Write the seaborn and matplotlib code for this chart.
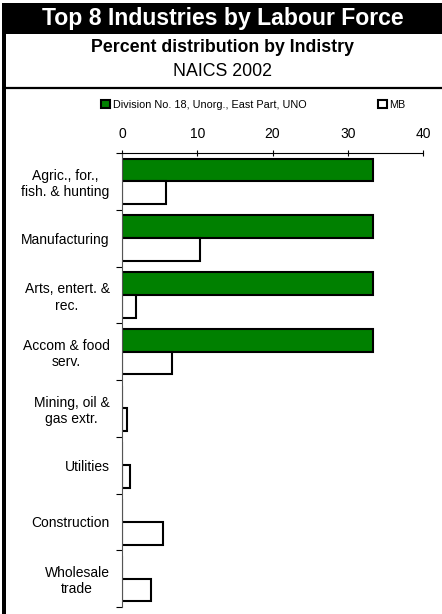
import pandas as pd
import matplotlib
matplotlib.use('Agg')
import matplotlib.pyplot as plt
import seaborn as sns
from matplotlib.patches import Rectangle
from matplotlib.lines import Line2D

# duomenys nuskaityti nuo paveikslo
industries = ['Agric., for.,\nfish. & hunting', 'Manufacturing', 'Arts, entert. &\nrec.',
              'Accom & food\nserv.', 'Mining, oil &\ngas extr.', 'Utilities',
              'Construction', 'Wholesale\ntrade']
division_vals = [33.4, 33.4, 33.4, 33.4, 0, 0, 0, 0]
mb_vals = [5.9, 10.4, 1.9, 6.6, 0.7, 1.1, 5.4, 3.9]
series_names = ['Division No. 18, Unorg., East Part, UNO', 'MB']
x_ticks = [0, 10, 20, 30, 40]

df = pd.DataFrame({
    'Industry': industries * 2,
    'Percent': division_vals + mb_vals,
    'Series': [series_names[0]] * len(industries) + [series_names[1]] * len(industries),
})

sns.set_style('white')
plt.rcParams['font.family'] = ['Liberation Sans', 'DejaVu Sans']
plt.rcParams['text.color'] = 'black'
plt.rcParams['xtick.color'] = 'black'
plt.rcParams['ytick.color'] = 'black'
plt.rcParams['axes.labelcolor'] = 'black'

W, H = 442, 614
fig = plt.figure(figsize=(W / 100, H / 100), dpi=100)

# juoda antraštės juosta, kairysis rėmelis ir skiriamoji linija
fig.patches.append(Rectangle((3 / W, 1 - 34 / H), 1 - 3 / W, 31 / H, transform=fig.transFigure,
                             facecolor='black', edgecolor='none', zorder=0))
fig.patches.append(Rectangle((2 / W, 0), 4 / W, 1 - 3 / H, transform=fig.transFigure,
                             facecolor='black', edgecolor='none', zorder=0))
fig.lines.append(Line2D([6 / W, 1], [1 - 87.5 / H, 1 - 87.5 / H], transform=fig.transFigure,
                        color='black', linewidth=1.6))

cx = 0.5 + 3 / W / 2
fig.text(cx, 1 - 19 / H, 'Top 8 Industries by Labour Force', color='white',
         fontsize=16.6, fontweight='bold', ha='center', va='center')
fig.text(cx, 1 - 47 / H, 'Percent distribution by Indistry',
         fontsize=12.8, fontweight='bold', ha='center', va='center')
fig.text(cx, 1 - 72 / H, 'NAICS 2002', fontsize=12.8, ha='center', va='center')

ax = fig.add_axes([122 / W, 1 - 607 / H, 301 / W, 454 / H])
sns.barplot(data=df, y='Industry', x='Percent', hue='Series', orient='h', ax=ax,
            palette={series_names[0]: '#008000', series_names[1]: 'white'},
            edgecolor='black', linewidth=1.5, width=0.8, saturation=1)

ax.set_xlim(0, 40)
ax.set_ylim(7.5, -0.5)
ax.set_xticks(x_ticks)
ax.xaxis.tick_top()
ax.tick_params(axis='x', direction='inout', length=5, width=0.8, pad=6, labelsize=10,
               top=True, bottom=False)
ax.set_yticks(range(len(industries)))
ax.set_yticks([i - 0.5 for i in range(len(industries) + 1)], minor=True)
ax.tick_params(axis='y', which='major', length=0, pad=9, labelsize=10)
ax.tick_params(axis='y', which='minor', direction='out', length=4, width=0.8, left=True)
for t in ax.get_yticklabels():
    t.set_multialignment('center')
ax.set_xlabel('')
ax.set_ylabel('')
for side in ['right', 'bottom']:
    ax.spines[side].set_visible(False)
ax.spines['top'].set_color('black')
ax.spines['top'].set_linewidth(0.8)
ax.spines['left'].set_color('#555555')
ax.spines['left'].set_linewidth(0.8)

handles, labels = ax.get_legend_handles_labels()
ax.legend(handles, labels, ncol=2, loc='center left', bbox_to_anchor=(96 / W, 1 - 105 / H),
          bbox_transform=fig.transFigure, frameon=False, fontsize=7.8, handlelength=0.8,
          handleheight=0.8, handletextpad=0.25, columnspacing=6.6, borderpad=0)

fig.savefig('out.png', dpi=100)
